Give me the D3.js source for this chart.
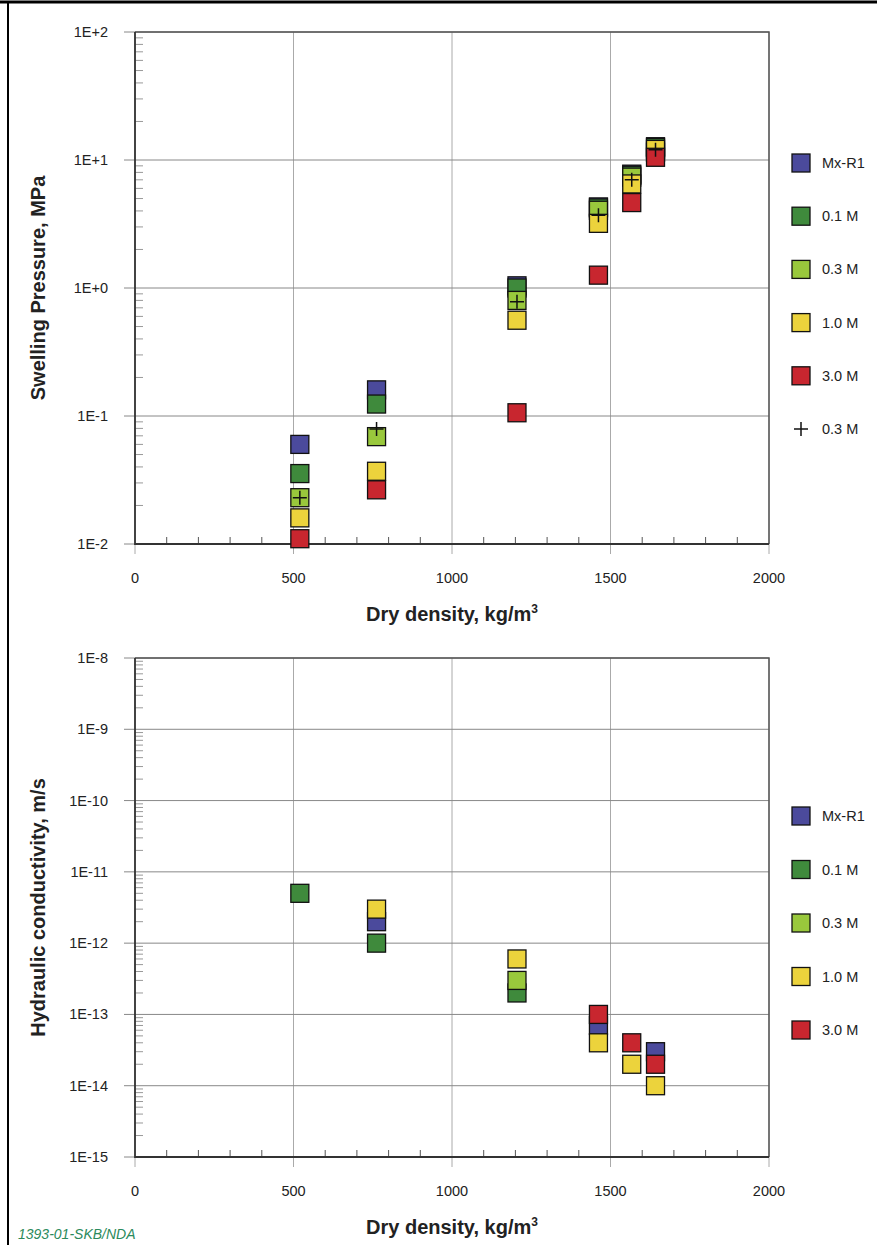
<!DOCTYPE html>
<html>
<head>
<meta charset="utf-8">
<script src="https://cdn.jsdelivr.net/npm/d3@7"></script>
<style>
  body { margin: 0; background: #fff; }
  svg text { font-family: "Liberation Sans", Arial, sans-serif; fill: #222; }
</style>
</head>
<body>
<svg id="chart" width="877" height="1245"></svg>
<script>
// dry density columns (kg/m3)
let density = [520, 762, 1205, 1462, 1567, 1642];

// swelling pressure, MPa
let swMxR1 = [0.060, 0.16, 1.04, 4.3, 7.75, 12.7];
let sw01 = [0.0355, 0.124, 1.0, 4.22, 7.6, 12.5];
let sw03 = [0.023, 0.069, 0.80, 4.05, 7.35, 11.5];
let sw10 = [0.016, 0.037, 0.56, 3.2, 6.5, 12.1];
let sw30 = [0.011, 0.0265, 0.106, 1.26, 4.65, 10.5];
let sw03plus = [0.023, 0.079, 0.78, 3.7, 7.0, 12.0];

// hydraulic conductivity, m/s
let hcMxR1 = [null, 2e-12, null, 7e-14, null, 3e-14];
let hc01 = [5e-12, 1e-12, 2e-13, null, null, null];
let hc03 = [null, null, 3e-13, null, null, null];
let hc10 = [null, 3e-12, 6e-13, 4e-14, 2e-14, 1e-14];
let hc30 = [null, null, null, 1e-13, 4e-14, 2e-14];

let seriesNames = ["Mx-R1", "0.1 M", "0.3 M", "1.0 M", "3.0 M"];
let seriesColors = ["#4b4a9c", "#3f8a3c", "#99c83c", "#ecd33c", "#c8262f"];
let xTicks = [0, 500, 1000, 1500, 2000];

let svg = d3.select("#chart");

// outer frame of the figure
svg.append("line").attr("x1", 0).attr("x2", 877).attr("y1", 2).attr("y2", 2)
    .attr("stroke", "#000").attr("stroke-width", 3);
svg.append("line").attr("x1", 8).attr("x2", 8).attr("y1", 2).attr("y2", 1245)
    .attr("stroke", "#000").attr("stroke-width", 2);

let fmtExp = (v) => {
    let e = Math.round(Math.log10(v));
    return "1E" + (e >= 0 ? "+" + e : e);
};

let drawPanel = (cfg) => {
    let left = 135, right = 769;
    let x = d3.scaleLinear().domain([0, 2000]).range([left, right]);
    let y = d3.scaleLog().domain(cfg.yDomain).range([cfg.bottom, cfg.top]);
    let g = svg.append("g");

    let lo = Math.round(Math.log10(cfg.yDomain[0]));
    let hi = Math.round(Math.log10(cfg.yDomain[1]));
    let majors = d3.range(lo, hi + 1).map(e => Math.pow(10, e));
    let minors = [];
    d3.range(lo, hi).forEach(e => {
        for (let k = 2; k <= 9; k++) minors.push(k * Math.pow(10, e));
    });

    // vertical grid, runs a bit below the axis
    g.selectAll(".vgrid").data(xTicks).join("line")
        .attr("x1", d => x(d)).attr("x2", d => x(d))
        .attr("y1", cfg.top).attr("y2", cfg.bottom + 10)
        .attr("stroke", "#aaa").attr("stroke-width", 1);

    // horizontal grid + major ticks to the left
    g.selectAll(".hgrid").data(majors).join("line")
        .attr("x1", left - 11).attr("x2", right)
        .attr("y1", d => y(d)).attr("y2", d => y(d))
        .attr("stroke", "#888").attr("stroke-width", 1);

    // minor log ticks inside
    g.selectAll(".ymin").data(minors).join("line")
        .attr("x1", left).attr("x2", left + 8)
        .attr("y1", d => y(d)).attr("y2", d => y(d))
        .attr("stroke", "#999").attr("stroke-width", 1);

    // minor x ticks every 100
    g.selectAll(".xmin").data(d3.range(100, 2000, 100).filter(d => d % 500 != 0)).join("line")
        .attr("x1", d => x(d)).attr("x2", d => x(d))
        .attr("y1", cfg.bottom).attr("y2", cfg.bottom - 7)
        .attr("stroke", "#555").attr("stroke-width", 1);

    // frame
    g.append("path")
        .attr("d", `M${left},${cfg.top}H${right}V${cfg.bottom}`)
        .attr("fill", "none").attr("stroke", "#555").attr("stroke-width", 1.5);
    g.append("path")
        .attr("d", `M${left},${cfg.top}V${cfg.bottom}H${right}`)
        .attr("fill", "none").attr("stroke", "#333").attr("stroke-width", 1.8);

    // tick labels
    g.selectAll(".ylab").data(majors).join("text")
        .attr("x", 108).attr("y", d => y(d) + 5)
        .attr("text-anchor", "end").attr("font-size", 14.5)
        .text(fmtExp);
    g.selectAll(".xlab").data(xTicks).join("text")
        .attr("x", d => x(d)).attr("y", cfg.bottom + 39)
        .attr("text-anchor", "middle").attr("font-size", 14.5)
        .text(d => d);

    // axis titles
    let xt = g.append("text")
        .attr("x", (left + right) / 2).attr("y", cfg.bottom + 77)
        .attr("text-anchor", "middle").attr("font-size", 20).attr("font-weight", "bold");
    xt.append("tspan").text("Dry density, kg/m");
    xt.append("tspan").attr("font-size", 12).attr("dy", -8).text("3");

    g.append("text")
        .attr("transform", `translate(45,${(cfg.top + cfg.bottom) / 2}) rotate(-90)`)
        .attr("text-anchor", "middle").attr("font-size", 20).attr("font-weight", "bold")
        .text(cfg.yTitle);

    // markers
    let s = 18;
    cfg.series.forEach((vals, i) => {
        let pts = density.map((d, j) => ({x: d, y: vals[j]})).filter(p => p.y != null);
        g.selectAll(".pt" + i).data(pts).join("rect")
            .attr("x", p => x(p.x) - s / 2).attr("y", p => y(p.y) - s / 2)
            .attr("width", s).attr("height", s)
            .attr("fill", seriesColors[i])
            .attr("stroke", "#111").attr("stroke-width", 1.3);
    });
    if (cfg.plus) {
        let pts = density.map((d, j) => ({x: d, y: cfg.plus[j]}));
        g.selectAll(".plus").data(pts).join("path")
            .attr("d", p => {
                let cx = x(p.x), cy = y(p.y);
                return `M${cx - 7},${cy}H${cx + 7}M${cx},${cy - 7}V${cy + 7}`;
            })
            .attr("stroke", "#111").attr("stroke-width", 1.5);
    }

    // legend
    let items = seriesNames.map((n, i) => ({name: n, color: seriesColors[i], plus: false}));
    if (cfg.plus) items.push({name: "0.3 M", color: null, plus: true});
    let lg = g.selectAll(".leg").data(items).join("g")
        .attr("transform", (d, i) => `translate(801,${cfg.legendTop + i * cfg.legendStep})`);
    lg.filter(d => !d.plus).append("rect")
        .attr("x", -9).attr("y", -9).attr("width", 18).attr("height", 18)
        .attr("fill", d => d.color).attr("stroke", "#111").attr("stroke-width", 1.3);
    lg.filter(d => d.plus).append("path")
        .attr("d", "M-7,0H7M0,-7V7").attr("stroke", "#111").attr("stroke-width", 1.5);
    lg.append("text").attr("x", 21).attr("y", 5).attr("font-size", 14.5)
        .text(d => d.name);
};

drawPanel({
    top: 32, bottom: 544, yDomain: [1e-2, 1e2],
    yTitle: "Swelling Pressure, MPa",
    series: [swMxR1, sw01, sw03, sw10, sw30],
    plus: sw03plus,
    legendTop: 163, legendStep: 53.2
});

drawPanel({
    top: 658, bottom: 1157, yDomain: [1e-15, 1e-8],
    yTitle: "Hydraulic conductivity, m/s",
    series: [hcMxR1, hc01, hc03, hc10, hc30],
    plus: null,
    legendTop: 816, legendStep: 53.5
});

svg.append("text")
    .attr("x", 18).attr("y", 1239)
    .attr("font-size", 14).attr("font-style", "italic")
    .style("fill", "#2b8a5c")
    .text("1393-01-SKB/NDA");
</script>
</body>
</html>
